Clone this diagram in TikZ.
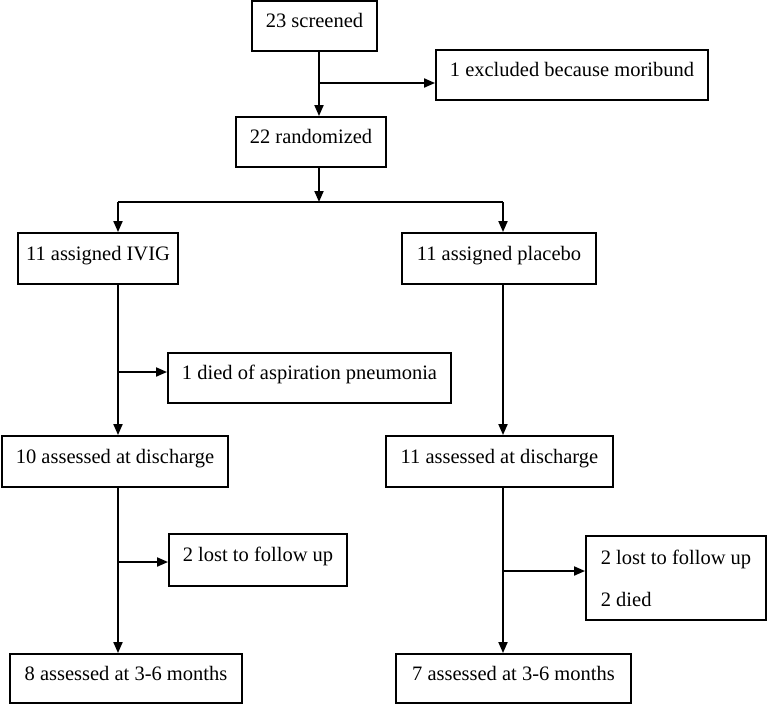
\documentclass[tikz,border=0pt]{standalone}
\usepackage{fontspec}
\setmainfont{Liberation Serif}
\usetikzlibrary{arrows.meta, positioning}

\tikzset{
  box/.style={draw, line width=1.9pt, inner sep=0pt, align=center,
    text height=14pt, text depth=10.5pt,
    font=\fontsize{20.5}{24}\selectfont},
  flow/.style={line width=1.9pt, -{Triangle[length=11pt, width=9pt]}},
  link/.style={line width=1.9pt},
}

\begin{document}
\begin{tikzpicture}[x=1pt, y=-1pt]
    \useasboundingbox (0,0) rectangle (767,704);
    % boxes
    \node[box, minimum width=125, minimum height=50] (screened) at (314.5,26) {23 screened};
    \node[box, minimum width=272, minimum height=50] (excluded) at (572,75) {1 excluded because moribund};
    \node[box, minimum width=150, minimum height=50] (randomized) at (311,142) {22 randomized};
    \node[box, minimum width=160, minimum height=51] (ivig) at (98,258.5) {11 assigned IVIG};
    \node[box, minimum width=194, minimum height=51] (placebo) at (499,258.5) {11 assigned placebo};
    \node[box, minimum width=283, minimum height=50] (pneumonia) at (309.5,378) {1 died of aspiration pneumonia};
    \node[box, minimum width=226, minimum height=51] (dischargeA) at (115,461.5) {10 assessed at discharge};
    \node[box, minimum width=227, minimum height=51] (dischargeB) at (499.5,461.5) {11 assessed at discharge};
    \node[box, minimum width=178, minimum height=52] (lostA) at (258,560) {2 lost to follow up};
    \node[box, minimum width=180, minimum height=84, align=left, text height={}, text depth={},
      font=\fontsize{20.5}{42}\selectfont] (lostB) at (676,578) {2 lost to follow up\\2 died};
    \node[box, minimum width=232, minimum height=49] (monthsA) at (126,678.5) {8 assessed at 3-6 months};
    \node[box, minimum width=235, minimum height=49] (monthsB) at (513.5,678.5) {7 assessed at 3-6 months};
    % junctions
    \coordinate (exit) at (319,83);
    \coordinate (split) at (319,202);
    \coordinate (splitA) at (118,202);
    \coordinate (splitB) at (503,202);
    \coordinate (deathA) at (118,372);
    \coordinate (dropA) at (118,562);
    \coordinate (dropB) at (503,571);
    % connectors
    \draw[flow] (screened.south -| exit) -- (randomized.north -| exit);
    \draw[flow] (exit) -- (exit -| excluded.west);
    \draw[flow] (randomized.south -| split) -- (split);
    \draw[link] (splitA) -- (splitB);
    \draw[flow] (splitA) -- (ivig.north -| splitA);
    \draw[flow] (splitB) -- (placebo.north -| splitB);
    \draw[flow] (ivig.south -| splitA) -- (dischargeA.north -| splitA);
    \draw[flow] (deathA) -- (deathA -| pneumonia.west);
    \draw[flow] (placebo.south -| splitB) -- (dischargeB.north -| splitB);
    \draw[flow] (dischargeA.south -| splitA) -- (monthsA.north -| splitA);
    \draw[flow] (dropA) -- (dropA -| lostA.west);
    \draw[flow] (dischargeB.south -| splitB) -- (monthsB.north -| splitB);
    \draw[flow] (dropB) -- (dropB -| lostB.west);
\end{tikzpicture}
\end{document}
